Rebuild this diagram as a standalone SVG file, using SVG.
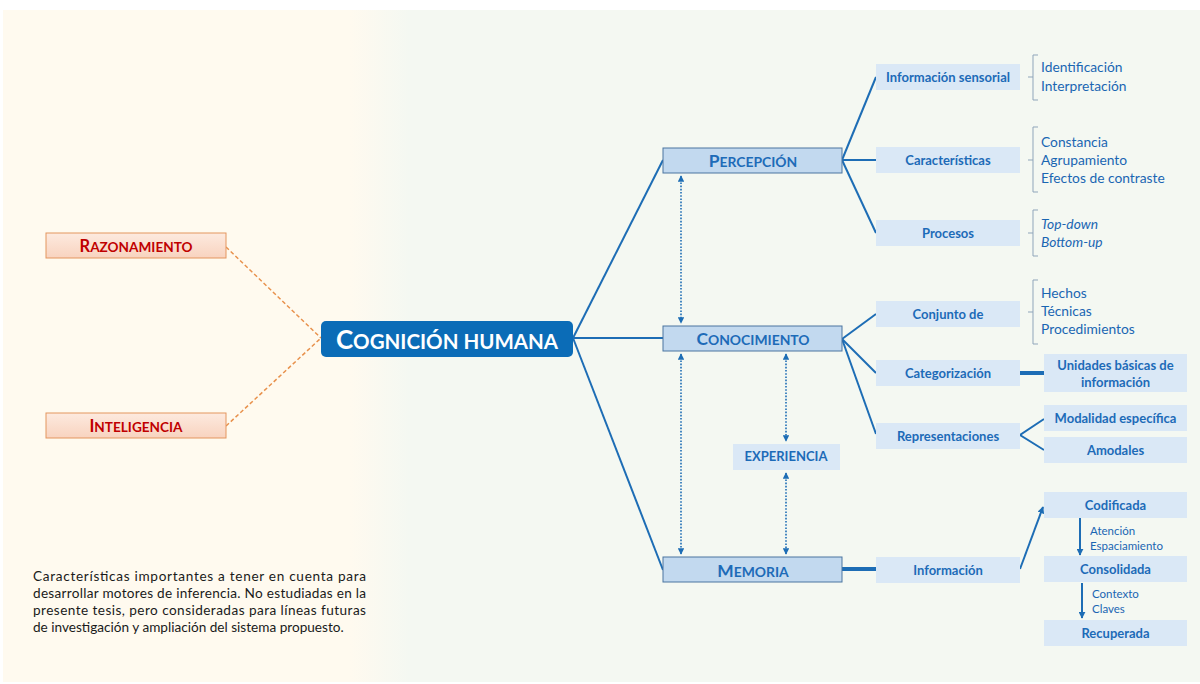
<svg xmlns="http://www.w3.org/2000/svg" width="1200" height="684" viewBox="0 0 1200 684">
  <defs>
    <linearGradient id="panelBg" x1="0" y1="0" x2="1" y2="0">
      <stop offset="0" stop-color="#fffaef"/>
      <stop offset="0.29" stop-color="#fffaef"/>
      <stop offset="0.34" stop-color="#f4f8f2"/>
      <stop offset="1" stop-color="#f4f8f2"/>
    </linearGradient>
    <linearGradient id="peach" x1="0" y1="0" x2="0" y2="1">
      <stop offset="0" stop-color="#fdeadf"/>
      <stop offset="1" stop-color="#f8d3bf"/>
    </linearGradient>
    <marker id="tip" viewBox="0 0 10 10" refX="9" refY="5" markerWidth="4" markerHeight="4" orient="auto-start-reverse" markerUnits="strokeWidth">
      <path d="M0,0 L10,5 L0,10 z" fill="#1d6db5"/>
    </marker>
    <marker id="tipSolid" viewBox="0 0 10 10" refX="9" refY="5" markerWidth="3.5" markerHeight="3.5" orient="auto" markerUnits="strokeWidth">
      <path d="M0,0 L10,5 L0,10 z" fill="#1d6db5"/>
    </marker>
    <style>
      .main { fill: #0b6cb7; }
      .mainTxt { fill: #ffffff; font-family: Lato, "Open Sans", sans-serif; font-weight: 700; }
      .topic { fill: #c2d9ef; stroke: #4a74a0; stroke-width: 1; }
      .topicTxt { fill: #1d6bb8; font-family: Lato, "Open Sans", sans-serif; font-weight: 700; }
      .side { fill: url(#peach); stroke: #e4955f; stroke-width: 1; }
      .sideTxt { fill: #c00000; font-family: Lato, "Open Sans", sans-serif; font-weight: 700; }
      .sub { fill: #dae8f6; }
      .subTxt { fill: #1d6bb8; font-family: Lato, "Open Sans", sans-serif; font-weight: 700; font-size: 13px; }
      .leaf { fill: #1a66b2; font-family: Lato, "Open Sans", sans-serif; font-size: 13.8px; }
      .note { fill: #1a66b2; font-family: Lato, "Open Sans", sans-serif; font-size: 11.5px; }
      .para { fill: #1a1a1a; font-family: Lato, "Open Sans", sans-serif; font-size: 13.6px; }
      .link { stroke: #1d6db5; stroke-width: 2; fill: none; }
      .thick { stroke: #1d6db5; stroke-width: 4; fill: none; }
      .dot { stroke: #1d6db5; stroke-width: 1.6; stroke-dasharray: 1.6 1.6; fill: none; }
      .dash { stroke: #e8914c; stroke-width: 1.5; stroke-dasharray: 4 2.5; fill: none; }
      .brk { stroke: #8fa5ba; stroke-width: 1; fill: none; }
    </style>
  </defs>

  <!-- background panels -->
  <rect x="0" y="0" width="1200" height="684" fill="#ffffff"/>
  <rect x="3" y="10" width="1197" height="672" fill="url(#panelBg)"/>

  <!-- connectors -->
  <g id="connectors">
    <!-- side concepts (dashed) -->
    <path class="dash" d="M226,247 L321,338"/>
    <path class="dash" d="M226,426 L321,338"/>
    <!-- central node to main topics -->
    <path class="link" d="M573,338 L663,160"/>
    <path class="link" d="M573,338 L663,338"/>
    <path class="link" d="M573,338 L663,570"/>
    <!-- Percepción branches -->
    <path class="link" d="M842,160 L876,77"/>
    <path class="link" d="M842,160 L876,160"/>
    <path class="link" d="M842,160 L876,233"/>
    <!-- Conocimiento branches -->
    <path class="link" d="M842,339 L876,314"/>
    <path class="link" d="M842,339 L876,373"/>
    <path class="link" d="M842,339 L876,434"/>
    <path class="thick" d="M1020,373 L1044,373"/>
    <path class="link" d="M1044,419 L1020,435 L1044,450"/>
    <!-- Memoria branches -->
    <path class="thick" d="M842,569 L876,569"/>
    <path class="link" d="M1020,569 L1043,507" marker-end="url(#tipSolid)"/>
    <path class="link" d="M1080,518 L1080,555" marker-end="url(#tipSolid)"/>
    <path class="link" d="M1082,583 L1082,618" marker-end="url(#tipSolid)"/>
    <!-- dotted double-headed relations -->
    <path class="dot" d="M681,176 L681,323" marker-start="url(#tip)" marker-end="url(#tip)"/>
    <path class="dot" d="M681,354 L681,554" marker-start="url(#tip)" marker-end="url(#tip)"/>
    <path class="dot" d="M786,354 L786,441" marker-start="url(#tip)" marker-end="url(#tip)"/>
    <path class="dot" d="M786,473 L786,554" marker-start="url(#tip)" marker-end="url(#tip)"/>
    <!-- brackets -->
    <path class="brk" d="M1038,55 L1033,55 L1033,100 L1038,100 M1033,77 L1028,77"/>
    <path class="brk" d="M1038,127 L1033,127 L1033,192 L1038,192 M1033,160 L1028,160"/>
    <path class="brk" d="M1038,210 L1033,210 L1033,256 L1038,256 M1033,233 L1028,233"/>
    <path class="brk" d="M1038,280 L1033,280 L1033,344 L1038,344 M1033,312 L1028,312"/>
  </g>

  <!-- side concepts -->
  <g id="razonamiento">
    <rect class="side" x="46" y="233" width="180" height="25"/>
    <text class="sideTxt" x="136" y="251.5" text-anchor="middle"><tspan font-size="16.5">R</tspan><tspan font-size="13.6">AZONAMIENTO</tspan></text>
  </g>
  <g id="inteligencia">
    <rect class="side" x="46" y="413" width="180" height="25"/>
    <text class="sideTxt" x="136" y="431.5" text-anchor="middle"><tspan font-size="16.5">I</tspan><tspan font-size="13.6">NTELIGENCIA</tspan></text>
  </g>

  <!-- central node -->
  <g id="cognicion">
    <rect class="main" x="321" y="321" width="252" height="36" rx="5"/>
    <text class="mainTxt" x="447" y="349" text-anchor="middle"><tspan font-size="26">C</tspan><tspan font-size="20.5">OGNICIÓN HUMANA</tspan></text>
  </g>

  <!-- main topics -->
  <g id="percepcion">
    <rect class="topic" x="663" y="148" width="179" height="25"/>
    <text class="topicTxt" x="753" y="166.5" text-anchor="middle"><tspan font-size="17.4">P</tspan><tspan font-size="13.9">ERCEPCIÓN</tspan></text>
  </g>
  <g id="conocimiento">
    <rect class="topic" x="663" y="326" width="179" height="25"/>
    <text class="topicTxt" x="753" y="344.5" text-anchor="middle"><tspan font-size="17.4">C</tspan><tspan font-size="13.9">ONOCIMIENTO</tspan></text>
  </g>
  <g id="memoria">
    <rect class="topic" x="663" y="557" width="179" height="25"/>
    <text class="topicTxt" x="753" y="576.5" text-anchor="middle"><tspan font-size="17.4">M</tspan><tspan font-size="13.9">EMORIA</tspan></text>
  </g>
  <g id="experiencia">
    <rect class="sub" x="733" y="444" width="107" height="26"/>
    <text class="subTxt" x="786" y="461" text-anchor="middle" font-size="11.2">EXPERIENCIA</text>
  </g>

  <!-- Percepción subtopics -->
  <g id="info-sensorial">
    <rect class="sub" x="876" y="64" width="144" height="26"/>
    <text class="subTxt" x="948" y="81.5" text-anchor="middle">Información sensorial</text>
  </g>
  <g id="caracteristicas">
    <rect class="sub" x="876" y="147" width="144" height="26"/>
    <text class="subTxt" x="948" y="164.5" text-anchor="middle">Características</text>
  </g>
  <g id="procesos">
    <rect class="sub" x="876" y="220" width="144" height="26"/>
    <text class="subTxt" x="948" y="237.5" text-anchor="middle">Procesos</text>
  </g>
  <g id="percepcion-leaves">
    <text class="leaf" x="1041" y="72">Identificación</text>
    <text class="leaf" x="1041" y="91">Interpretación</text>
    <text class="leaf" x="1041" y="147">Constancia</text>
    <text class="leaf" x="1041" y="165">Agrupamiento</text>
    <text class="leaf" x="1041" y="183">Efectos de contraste</text>
    <text class="leaf" x="1041" y="229" font-style="italic">Top-down</text>
    <text class="leaf" x="1041" y="247" font-style="italic">Bottom-up</text>
  </g>

  <!-- Conocimiento subtopics -->
  <g id="conjunto">
    <rect class="sub" x="876" y="301" width="144" height="26"/>
    <text class="subTxt" x="948" y="318.5" text-anchor="middle">Conjunto de</text>
  </g>
  <g id="conjunto-leaves">
    <text class="leaf" x="1041" y="298">Hechos</text>
    <text class="leaf" x="1041" y="316">Técnicas</text>
    <text class="leaf" x="1041" y="334">Procedimientos</text>
  </g>
  <g id="categorizacion">
    <rect class="sub" x="876" y="360" width="144" height="26"/>
    <text class="subTxt" x="948" y="377.5" text-anchor="middle">Categorización</text>
  </g>
  <g id="unidades">
    <rect class="sub" x="1044" y="354" width="143" height="38"/>
    <text class="subTxt" x="1115.5" y="369.5" text-anchor="middle">Unidades básicas de</text>
    <text class="subTxt" x="1115.5" y="386.5" text-anchor="middle">información</text>
  </g>
  <g id="representaciones">
    <rect class="sub" x="876" y="423" width="144" height="26"/>
    <text class="subTxt" x="948" y="440.5" text-anchor="middle">Representaciones</text>
  </g>
  <g id="modalidad">
    <rect class="sub" x="1044" y="405" width="143" height="26"/>
    <text class="subTxt" x="1115.5" y="422.5" text-anchor="middle">Modalidad específica</text>
  </g>
  <g id="amodales">
    <rect class="sub" x="1044" y="437" width="143" height="26"/>
    <text class="subTxt" x="1115.5" y="454.5" text-anchor="middle">Amodales</text>
  </g>

  <!-- Memoria subtopics -->
  <g id="informacion">
    <rect class="sub" x="876" y="557" width="144" height="26"/>
    <text class="subTxt" x="948" y="574.5" text-anchor="middle">Información</text>
  </g>
  <g id="codificada">
    <rect class="sub" x="1044" y="492" width="143" height="26"/>
    <text class="subTxt" x="1115.5" y="509.5" text-anchor="middle">Codificada</text>
  </g>
  <g id="consolidada">
    <rect class="sub" x="1044" y="556" width="143" height="26"/>
    <text class="subTxt" x="1115.5" y="573.5" text-anchor="middle">Consolidada</text>
  </g>
  <g id="recuperada">
    <rect class="sub" x="1044" y="620" width="143" height="26"/>
    <text class="subTxt" x="1115.5" y="637.5" text-anchor="middle">Recuperada</text>
  </g>
  <g id="memoria-notes">
    <text class="note" x="1090" y="535">Atención</text>
    <text class="note" x="1090" y="550">Espaciamiento</text>
    <text class="note" x="1092" y="598">Contexto</text>
    <text class="note" x="1092" y="613">Claves</text>
  </g>

  <!-- explanatory note -->
  <g id="nota">
    <text class="para" x="33" y="581" textLength="333" lengthAdjust="spacing">Características importantes a tener en cuenta para</text>
    <text class="para" x="33" y="598" textLength="333" lengthAdjust="spacing">desarrollar motores de inferencia. No estudiadas en la</text>
    <text class="para" x="33" y="615" textLength="333" lengthAdjust="spacing">presente tesis, pero consideradas para líneas futuras</text>
    <text class="para" x="33" y="632">de investigación y ampliación del sistema propuesto.</text>
  </g>
</svg>
